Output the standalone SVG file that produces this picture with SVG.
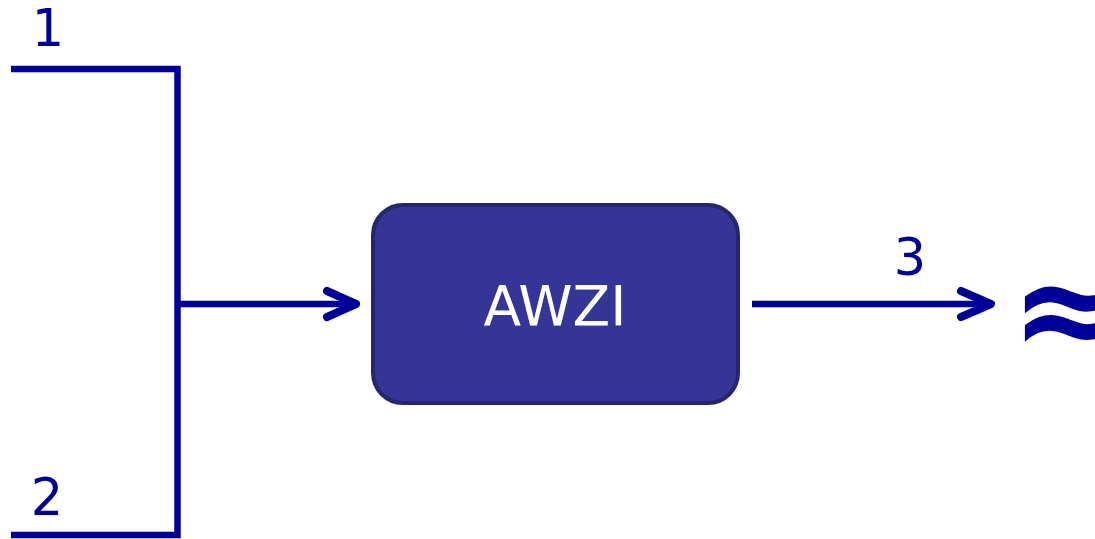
<svg xmlns="http://www.w3.org/2000/svg" width="1095" height="539" viewBox="0 0 1095 539">
<style>
.ln{fill:none;stroke:#000099;stroke-width:6.5}
.hd{fill:none;stroke:#000099;stroke-width:8;stroke-linecap:round;stroke-linejoin:round}
.lbl{font-family:"DejaVu Sans",Verdana,sans-serif;font-size:51px;fill:#000099;text-anchor:middle}
</style>
<rect width="1095" height="539" fill="#ffffff"/>
<g id="connectors">
<polyline class="ln" points="11,69 177.5,69 177.5,535 11,535"/>
<line class="ln" x1="177.5" y1="304" x2="352" y2="304"/>
<polyline class="hd" points="327,291 356,304 327,317"/>
<line class="ln" x1="752" y1="304" x2="988" y2="304"/>
<polyline class="hd" points="961,291 991,304 961,317"/>
</g>
<g id="label1"><text class="lbl" x="48" y="46">1</text></g>
<g id="label2"><text class="lbl" x="47" y="515">2</text></g>
<g id="label3"><text class="lbl" x="910" y="275">3</text></g>
<g id="awzi">
<rect x="373" y="205" width="365" height="198" rx="30" fill="#353597" stroke="#26266e" stroke-width="4"/>
<text x="555" y="325" font-family="'DejaVu Sans',Verdana,sans-serif" font-size="55" fill="#ffffff" text-anchor="middle">AWZI</text>
</g>
<g id="water"><text x="1010" y="357" font-family="'DejaVu Sans',sans-serif" font-size="140" font-weight="bold" fill="#000099">≈</text></g>
</svg>
